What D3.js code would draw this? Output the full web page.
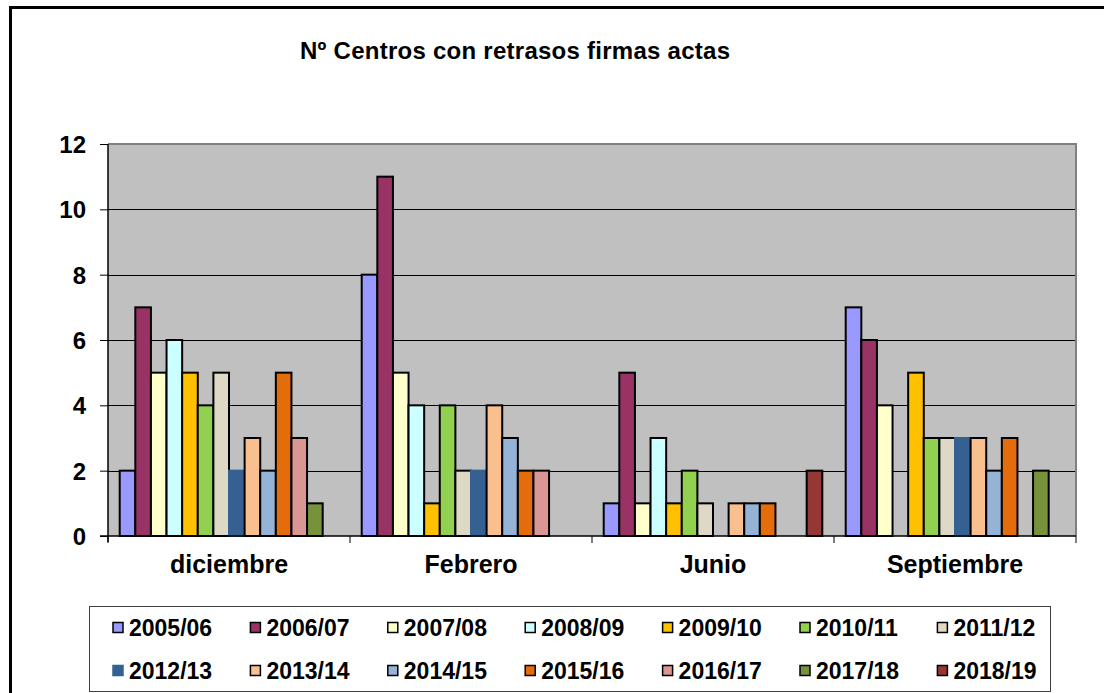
<!DOCTYPE html>
<html>
<head>
<meta charset="utf-8">
<script src="https://cdn.jsdelivr.net/npm/d3@7"></script>
<style>
  body { margin: 0; background: #fff; }
  svg { display: block; font-family: "Liberation Sans", Arial, sans-serif; font-weight: bold; }
</style>
</head>
<body>
<svg id="chart" width="1104" height="693"></svg>
<script>
// months on the x axis
const months = ["diciembre", "Febrero", "Junio", "Septiembre"];
// school years (series)
const years = ["2005/06", "2006/07", "2007/08", "2008/09", "2009/10", "2010/11", "2011/12",
  "2012/13", "2013/14", "2014/15", "2015/16", "2016/17", "2017/18", "2018/19"];
// values per month, one entry per school year (0 = no bar)
const diciembre = [2, 7, 5, 6, 5, 4, 5, 2, 3, 2, 5, 3, 1, 0];
const febrero = [8, 11, 5, 4, 1, 4, 2, 2, 4, 3, 2, 2, 0, 0];
const junio = [1, 5, 1, 3, 1, 2, 1, 0, 1, 1, 1, 0, 0, 2];
const septiembre = [7, 6, 4, 0, 5, 3, 3, 3, 3, 2, 3, 0, 2, 0];
const yTicks = [0, 2, 4, 6, 8, 10, 12];
const colors = ["#9999FF", "#993366", "#FFFFCC", "#CCFFFF", "#FFC000", "#92D050", "#DDD9C4",
  "#366092", "#FABF8F", "#95B3D7", "#E46C0A", "#DA9694", "#76933C", "#953735"];

const valuesByMonth = [diciembre, febrero, junio, septiembre];
const data = [];
months.forEach((m, i) => {
  years.forEach((y, j) => {
    data.push({ month: m, year: y, value: valuesByMonth[i][j] });
  });
});

const svg = d3.select("#chart");
const plot = { left: 108, right: 1076, top: 144, bottom: 536 };

// outer frame of the chart (runs off the right and bottom edges)
svg.append("rect")
  .attr("x", 10.5).attr("y", 7.5)
  .attr("width", 1200).attr("height", 800)
  .attr("fill", "none").attr("stroke", "#000").attr("stroke-width", 3);

svg.append("text")
  .attr("x", 515).attr("y", 59)
  .attr("text-anchor", "middle")
  .attr("font-size", 24)
  .attr("textLength", 430)
  .text("Nº Centros con retrasos firmas actas");

const gap = 1.5 / 15.5;
const x0 = d3.scaleBand().domain(months)
  .range([plot.left, plot.right])
  .paddingInner(gap).paddingOuter(gap / 2);
const x1 = d3.scaleBand().domain(years).range([0, x0.bandwidth()]);
const y = d3.scaleLinear().domain([0, 12]).range([plot.bottom, plot.top]);

// plot background
svg.append("rect")
  .attr("x", plot.left).attr("y", plot.top)
  .attr("width", plot.right - plot.left).attr("height", plot.bottom - plot.top)
  .attr("fill", "#C0C0C0");

svg.append("g")
  .selectAll("line")
  .data(yTicks.filter(d => d > 0 && d < 12))
  .enter()
  .append("line")
  .attr("x1", plot.left).attr("x2", plot.right)
  .attr("y1", d => Math.round(y(d)) + 0.5).attr("y2", d => Math.round(y(d)) + 0.5)
  .attr("stroke", "#000").attr("stroke-width", 1);

// plot border top/right
svg.append("path")
  .attr("d", `M${plot.left},${plot.top}H${plot.right}V${plot.bottom}`)
  .attr("fill", "none").attr("stroke", "#808080").attr("stroke-width", 2);

// bars
svg.append("g")
  .selectAll("rect")
  .data(data.filter(d => d.value > 0))
  .enter()
  .append("rect")
  .attr("x", d => x0(d.month) + x1(d.year))
  .attr("y", d => y(d.value))
  .attr("width", x1.bandwidth())
  .attr("height", d => y(0) - y(d.value))
  .attr("fill", d => colors[years.indexOf(d.year)])
  .attr("stroke", d => d.year === "2012/13" ? colors[7] : "#000")
  .attr("stroke-width", 2);

// y axis
const yAxis = svg.append("g")
  .attr("transform", `translate(${plot.left},0)`)
  .call(d3.axisLeft(y).tickValues(yTicks).tickSize(8).tickPadding(14).tickFormat(d3.format("d")));
yAxis.select(".domain").attr("stroke", "#000").attr("stroke-width", 1.5).attr("d", `M0,${plot.top}V${plot.bottom + 6}`);
yAxis.selectAll(".tick line").attr("stroke", "#000");
yAxis.selectAll(".tick text")
  .attr("font-size", 24).attr("font-family", null).attr("fill", "#000")
  .attr("dy", "0.36em");

// x axis, ticks on the group boundaries
const xAxis = svg.append("g")
  .attr("transform", `translate(0,${plot.bottom})`);
xAxis.append("line")
  .attr("x1", plot.left - 8).attr("x2", plot.right)
  .attr("stroke", "#000").attr("stroke-width", 1.5);
xAxis.selectAll("line.sep")
  .data(months.map((m, i) => i === 0 ? plot.left : x0(m) - x0.step() * gap / 2).concat([plot.right]))
  .enter()
  .append("line")
  .attr("class", "sep")
  .attr("x1", d => d).attr("x2", d => d)
  .attr("y1", 0).attr("y2", 7)
  .attr("stroke", "#000");
xAxis.selectAll("text")
  .data(months)
  .enter()
  .append("text")
  .attr("x", d => x0(d) + x0.bandwidth() / 2)
  .attr("y", 37)
  .attr("text-anchor", "middle")
  .attr("font-size", 25)
  .text(d => d);

// legend
const legend = svg.append("g");
legend.append("rect")
  .attr("x", 89.5).attr("y", 606.5)
  .attr("width", 961).attr("height", 85)
  .attr("fill", "#fff").attr("stroke", "#404040").attr("stroke-width", 1);
const item = legend.selectAll("g.item")
  .data(years)
  .enter()
  .append("g")
  .attr("class", "item")
  .attr("transform", (d, i) => `translate(${112 + (i % 7) * 137.4},${i < 7 ? 628 : 671})`);
item.append("rect")
  .attr("x", 1).attr("y", -5.5)
  .attr("width", 10).attr("height", 10)
  .attr("fill", (d, i) => colors[i])
  .attr("stroke", d => d === "2012/13" ? colors[7] : "#000")
  .attr("stroke-width", 1.5);
item.append("text")
  .attr("x", 17).attr("y", 0)
  .attr("dy", "0.36em")
  .attr("font-size", 23)
  .text(d => d);
</script>
</body>
</html>
